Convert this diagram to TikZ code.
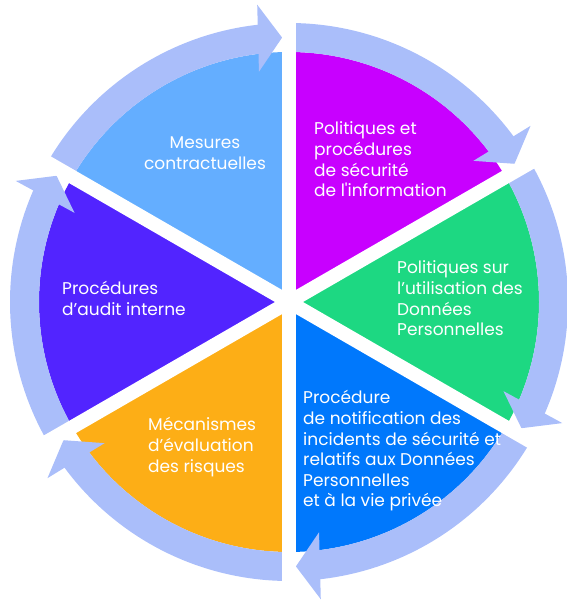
\documentclass[tikz,border=0pt]{standalone}
\usepackage{fontspec}
\setmainfont{Poppins}
\definecolor{cSky}{RGB}{100,174,255}
\definecolor{cMag}{RGB}{200,0,255}
\definecolor{cGreen}{RGB}{29,216,130}
\definecolor{cBlue}{RGB}{0,120,252}
\definecolor{cOrange}{RGB}{253,174,22}
\definecolor{cPurple}{RGB}{82,36,255}
\definecolor{cRing}{RGB}{170,190,250}
\begin{document}
\begin{tikzpicture}[x=1pt,y=1pt,
  band/.style={fill=cRing},
  gapline/.style={draw=white, line width=14pt},
  lbl/.style={text=white, font=\fontsize{17}{20.6}\selectfont, align=left, inner sep=0pt, anchor=base west}]
\useasboundingbox (0,0) rectangle (566,601);
\begin{scope}[shift={(289,299)}]
  \coordinate (C) at (0,0);
  % sectors
  \fill[cMag]    (C) -- (90:250)  arc[start angle=90,  end angle=30,   radius=250] -- cycle;
  \fill[cGreen]  (C) -- (30:250)  arc[start angle=30,  end angle=-30,  radius=250] -- cycle;
  \fill[cBlue]   (C) -- (-30:250) arc[start angle=-30, end angle=-90,  radius=250] -- cycle;
  \fill[cOrange] (C) -- (-90:250) arc[start angle=-90, end angle=-150, radius=250] -- cycle;
  \fill[cPurple] (C) -- (210:250) arc[start angle=210, end angle=150,  radius=250] -- cycle;
  \fill[cSky]    (C) -- (150:250) arc[start angle=150, end angle=90,   radius=250] -- cycle;
  % ring arrows
  \foreach \s in {90,30,-30,-90,-150,150}{
    \pgfmathsetmacro{\e}{\s-60}
    \pgfmathsetmacro{\b}{\e+5}
    \pgfmathsetmacro{\t}{\e+1.5}
    \fill[band] (\s:250) arc[start angle=\s, end angle=\b, radius=250]
       -- (\b:279) arc[start angle=\b, end angle=\s, radius=279] -- cycle;
    \fill[band, rotate=\t] (264.5,0) -- (298,24) -- (231,24) -- cycle;
  }
  % white spokes
  \draw[gapline] (90:300) -- (270:300);
  \draw[gapline] (30:300) -- (210:300);
  \draw[gapline] (-30:300) -- (150:300);
\end{scope}
% labels (anchored at the baseline of their last line)
\node[lbl, align=center, anchor=base] (tSky) at (205,431.4) {Mesures\\contractuelles};
\node[lbl] (tMag) at (314,404.2) {Politiques et\\procédures\\de sécurité\\de l\textquotesingle information};
\node[lbl] (tGreen) at (397,265.2) {Politiques sur\\l’utilisation des\\Données\\Personnelles};
\node[lbl] (tBlue) at (303,94) {Procédure\\de notification des\\incidents de sécurité et\\relatifs aux Données\\Personnelles\\et à la vie privée};
\node[lbl] (tOrange) at (148,128.8) {Mécanismes\\d’évaluation\\des risques};
\node[lbl] (tPurple) at (62,285.4) {Procédures\\d’audit interne};
\end{tikzpicture}
\end{document}
